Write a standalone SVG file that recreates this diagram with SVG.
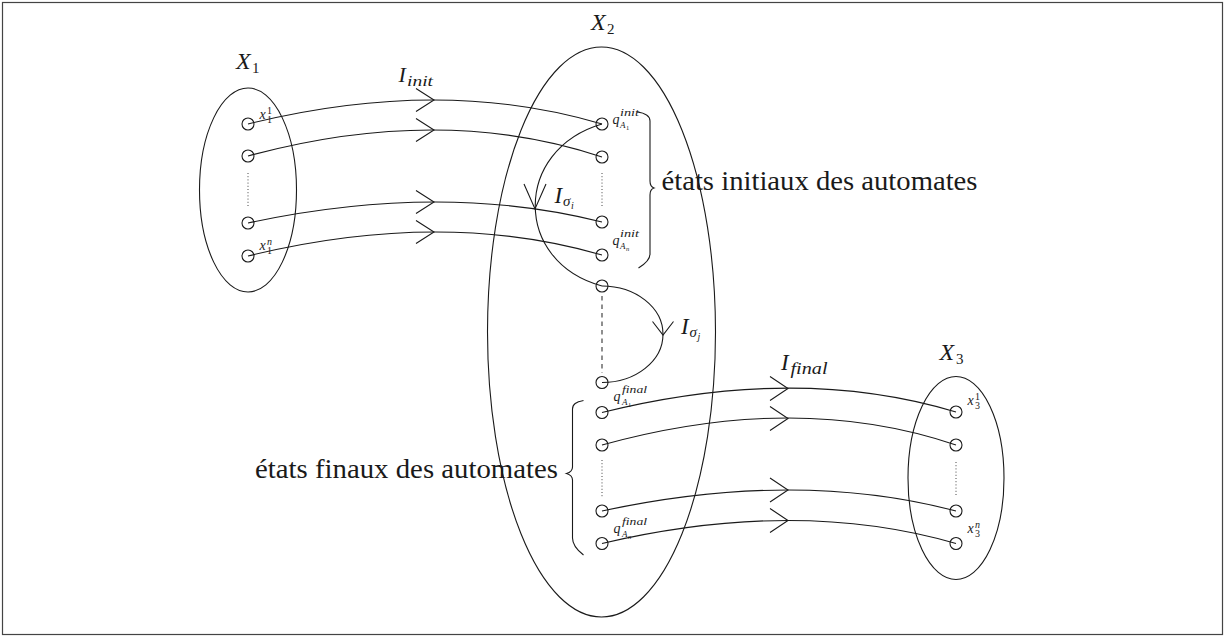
<svg xmlns="http://www.w3.org/2000/svg" width="1226" height="637" viewBox="0 0 1226 637">
<style>
.ln{fill:none;stroke:#1a1a1a;stroke-width:1.1}
.nd{fill:none;stroke:#1a1a1a;stroke-width:1.1}
.dot{fill:none;stroke:#333;stroke-width:0.9;stroke-dasharray:1 2.2}
.dash{fill:none;stroke:#333;stroke-width:1.1;stroke-dasharray:4.5 4}
text{font-family:'Liberation Serif',serif;fill:#1a1a1a}
.m{font-style:italic}
.big{font-size:24px}
.sub{font-size:15px}
.s{font-size:14px}
.ss{font-size:10px}
.txt{font-size:28px}
</style>
<rect x="2.5" y="2.5" width="1220" height="632" fill="#fff" stroke="#444" stroke-width="1.2"/>

<g id="X1" font-family="Liberation Serif">
  <ellipse class="ln" cx="248" cy="190" rx="48.5" ry="102"/>
  <text class="m big" x="236" y="69">X</text><text class="sub" x="252" y="73">1</text>
  <circle class="nd" cx="248" cy="124" r="6"/>
  <circle class="nd" cx="248" cy="156" r="6"/>
  <circle class="nd" cx="248" cy="223" r="6"/>
  <circle class="nd" cx="248" cy="256" r="6"/>
  <line class="dot" x1="248" y1="173" x2="248" y2="208"/>
  <text class="m s" x="259.5" y="119">x</text><text class="ss" x="267" y="113.5">1</text><text class="ss" x="267" y="123">1</text>
  <text class="m s" x="259.5" y="250">x</text><text class="m ss" x="267" y="244.5">n</text><text class="ss" x="267" y="254">1</text>
</g>

<g id="X2" font-family="Liberation Serif">
  <ellipse class="ln" cx="601.5" cy="332" rx="114" ry="285"/>
  <text class="m big" x="591" y="30">X</text><text class="sub" x="607" y="34">2</text>
  <circle class="nd" cx="602" cy="124" r="6"/>
  <circle class="nd" cx="602" cy="157" r="6"/>
  <circle class="nd" cx="602" cy="222" r="6"/>
  <circle class="nd" cx="602" cy="255" r="6"/>
  <circle class="nd" cx="602" cy="286" r="6"/>
  <circle class="nd" cx="602" cy="382.5" r="6"/>
  <circle class="nd" cx="602" cy="412.5" r="6"/>
  <circle class="nd" cx="602" cy="445" r="6"/>
  <circle class="nd" cx="602" cy="511" r="6"/>
  <circle class="nd" cx="602" cy="543.5" r="6"/>
  <line class="dot" x1="602" y1="173" x2="602" y2="208"/>
  <line class="dash" x1="602" y1="296" x2="602" y2="373"/>
  <line class="dot" x1="602" y1="460" x2="602" y2="497"/>
  <text class="m s" x="612.5" y="124">q</text><text class="m ss" x="620" y="116" textLength="19" lengthAdjust="spacingAndGlyphs">init</text><text class="m" font-size="9" x="620" y="128">A</text><text font-size="6.5" x="626" y="130">1</text>
  <text class="m s" x="612.5" y="245">q</text><text class="m ss" x="620" y="237" textLength="19" lengthAdjust="spacingAndGlyphs">init</text><text class="m" font-size="9" x="620" y="249">A</text><text class="m" font-size="6.5" x="626" y="251">n</text>
  <text class="m s" x="613.5" y="401">q</text><text class="m ss" x="622" y="393" textLength="25" lengthAdjust="spacingAndGlyphs">final</text><text class="m" font-size="9" x="622" y="405">A</text><text font-size="6.5" x="628" y="407">1</text>
  <text class="m s" x="613.5" y="533">q</text><text class="m ss" x="622" y="525" textLength="25" lengthAdjust="spacingAndGlyphs">final</text><text class="m" font-size="9" x="622" y="537">A</text><text class="m" font-size="6.5" x="628" y="539">n</text>
</g>

<g id="X3" font-family="Liberation Serif">
  <ellipse class="ln" cx="956" cy="478" rx="48" ry="101.5"/>
  <text class="m big" x="939.5" y="360">X</text><text class="sub" x="956" y="364">3</text>
  <circle class="nd" cx="956" cy="412" r="6"/>
  <circle class="nd" cx="956" cy="445" r="6"/>
  <circle class="nd" cx="956" cy="511" r="6"/>
  <circle class="nd" cx="956" cy="543.5" r="6"/>
  <line class="dot" x1="956" y1="462" x2="956" y2="497"/>
  <text class="m s" x="967.5" y="405">x</text><text class="ss" x="975" y="399.5">1</text><text class="ss" x="975" y="409">3</text>
  <text class="m s" x="967.5" y="533">x</text><text class="m ss" x="975" y="527.5">n</text><text class="ss" x="975" y="537">3</text>
</g>

<g id="connectors" font-family="Liberation Serif">
  <path class="ln" d="M248,124 Q441.5,76 602,124"/>
  <path class="ln" d="M248,156 Q441.5,103.5 602,157"/>
  <path class="ln" d="M248,223 Q441.5,181.5 602,222"/>
  <path class="ln" d="M248,256 Q441.5,208.5 602,255"/>
  <path class="ln" d="M416,88.5 L434,100 L416,111.5"/>
  <path class="ln" d="M416,118.5 L434,130 L416,141.5"/>
  <path class="ln" d="M416,190.5 L434,202 L416,213.5"/>
  <path class="ln" d="M416,220.5 L434,232 L416,243.5"/>
  <text class="m" font-size="22" x="398.5" y="81.5">I</text><text class="m" font-size="15" x="407" y="85.5" textLength="26" lengthAdjust="spacingAndGlyphs">init</text>

  <path class="ln" d="M602,412.5 Q797,364 956,412"/>
  <path class="ln" d="M602,445 Q797,391 956,445"/>
  <path class="ln" d="M602,511 Q797,469 956,511"/>
  <path class="ln" d="M602,543.5 Q797,497.5 956,543.5"/>
  <path class="ln" d="M770,376.5 L788,388.5 L770,400.5"/>
  <path class="ln" d="M770,406.5 L788,418.5 L770,430.5"/>
  <path class="ln" d="M770,478 L788,490 L770,502"/>
  <path class="ln" d="M770,508.5 L788,520.5 L770,532.5"/>
  <text class="m" font-size="23" x="781" y="370">I</text><text class="m" font-size="16" x="790.5" y="374" textLength="37" lengthAdjust="spacingAndGlyphs">final</text>

  <path class="ln" d="M602,124 C513,150 513,262 602,286"/>
  <path class="ln" d="M524,184 L535,209 L546,184"/>
  <text class="m" font-size="23" x="554.5" y="203">I</text><text class="m" font-size="15" x="563" y="206">σ</text><text class="m" font-size="10" x="571" y="209">i</text>

  <path class="ln" d="M602,286 A61,48.25 0 0 1 602,382.5"/>
  <path class="ln" d="M652.5,321.5 L663,335 L673.5,321.5"/>
  <text class="m" font-size="23" x="681" y="334">I</text><text class="m" font-size="15" x="689.5" y="337">σ</text><text class="m" font-size="10" x="697.5" y="340">j</text>
</g>

<g id="brace-initiaux" font-family="Liberation Serif">
  <path class="ln" d="M637,112 C645,113 650,115 650,121 L650,181 C650,185 651,187 654,188 C651,189 650,191 650,195 L650,254 C650,260 645,264 638.5,268"/>
  <text class="txt" x="661.5" y="190" textLength="316" lengthAdjust="spacingAndGlyphs">états initiaux des automates</text>
</g>

<g id="brace-finaux" font-family="Liberation Serif">
  <path class="ln" d="M583.5,400.5 C576,402 572.5,404 572.5,409 L572.5,467 C572.5,471 570,472.5 566.5,473.5 C570,474.5 572.5,476 572.5,480 L572.5,538 C572.5,545 577,550 583.5,555"/>
  <text class="txt" x="255" y="477.5" textLength="303" lengthAdjust="spacingAndGlyphs">états finaux des automates</text>
</g>
</svg>
